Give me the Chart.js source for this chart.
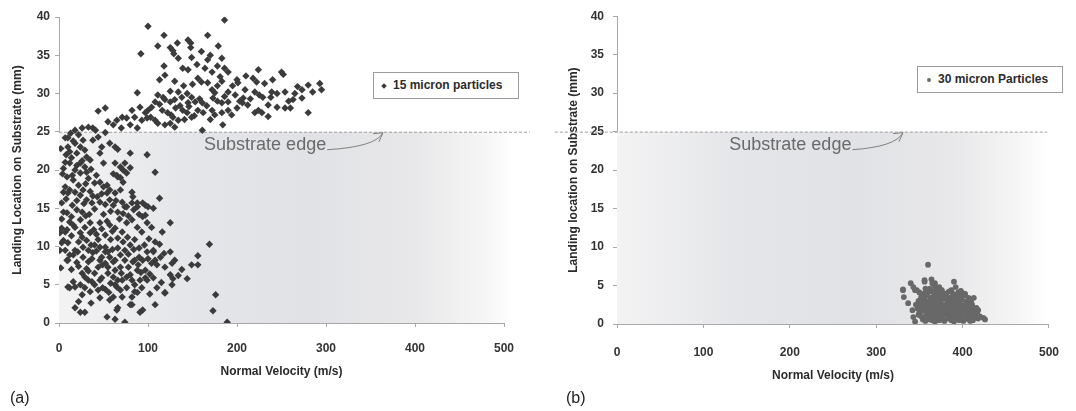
<!DOCTYPE html>
<html>
<head>
<meta charset="utf-8">
<script src="https://cdn.jsdelivr.net/npm/chart.js@4.4.1/dist/chart.umd.min.js"></script>
<style>
  body { margin: 0; background: #fff; font-family: 'Liberation Sans', Arial, sans-serif; }
  #wrap { position: relative; width: 1076px; height: 411px; overflow: hidden; }
  .panel { position: absolute; top: 0; width: 538px; height: 411px; }
  .legend { position: absolute; width: 146px; height: 27px; box-sizing: border-box;
            border: 1px solid #9c9c9c; background: #fff; }
  .legend span.txt { position: absolute; top: 5px; font-weight: bold; font-size: 12px; color: #2b2b2b; white-space: nowrap; }
  .legend span.dia { position: absolute; top: 11px; width: 4px; height: 4px; background: #3d3d3d; transform: rotate(45deg); }
  .legend span.dot { position: absolute; top: 11px; width: 4px; height: 4px; border-radius: 50%; background: #6e6e6e; }
  .tag { position: absolute; top: 389px; font-size: 16px; color: #222; }
</style>
</head>
<body>
<div id="wrap">
  <div class="panel" style="left:0"><canvas id="chartA" width="538" height="411"></canvas></div>
  <div class="panel" style="left:538px"><canvas id="chartB" width="538" height="411"></canvas></div>
  <div class="legend" style="left:373px; top:72px"><span class="dia" style="left:8px"></span><span class="txt" style="left:19px">15 micron particles</span></div>
  <div class="legend" style="left:917px; top:66px"><span class="dot" style="left:9px"></span><span class="txt" style="left:20px">30 micron Particles</span></div>
  <div class="tag" style="left:10px">(a)</div>
  <div class="tag" style="left:566px">(b)</div>
</div>
<script>
// tick labels
const velocityTicks = [0, 100, 200, 300, 400, 500];
const locationTicks = [0, 5, 10, 15, 20, 25, 30, 35, 40];
const substrateEdge = 25;

// (a) 15 micron particles: [normal velocity m/s, landing location mm]
const fineParticles = [
  [100,38.8],[186,39.6],[118,37.6],[145,37],[148,36.6],[167,37.6],[111,36.2],[125,36],[128,35.6],[148,36],
  [179,36.2],[92,35.2],[129,35.2],[134,34.6],[149,34.7],[170,35],[167,34.4],[183,34.6],[139,33.3],[145,33.1],
  [164,33.3],[172,32.8],[186,33.3],[190,32.8],[224,33.1],[250,32.8],[252,32.5],[119,32.4],[113,31.8],[130,31.6],
  [156,32],[160,31.5],[167,31.4],[181,32.2],[183,31.6],[200,31.8],[201,31.4],[218,32],[222,31.5],[231,31.3],
  [280,31.1],[293,31.3],[295,30.5],[268,30.9],[273,30.5],[88,30.1],[111,29.8],[117,29.5],[134,30.2],[138,29.5],
  [144,30],[149,29.5],[172,30.5],[175,30.1],[173,29.4],[190,30.2],[198,29.8],[209,30.5],[207,29.4],[220,30.2],
  [225,29.8],[229,29.5],[239,30.2],[245,30],[254,30.2],[265,30],[273,29.4],[263,29.2],[119,29.2],[125,28.9],
  [130,29.2],[108,28.9],[104,28.2],[145,28.8],[153,28.9],[161,28.8],[183,28.8],[190,28.9],[206,28.8],[212,28.5],
  [235,28.5],[245,28.2],[254,28.1],[260,28.1],[91,28.2],[82,27.8],[100,27.8],[97,27.5],[116,27.8],[122,27.5],
  [128,26.9],[134,26.5],[139,27.8],[144,27.5],[149,26.9],[156,27.8],[162,27.5],[172,27.8],[175,27.2],[183,27.5],
  [190,27.8],[200,28.1],[220,27.5],[224,27.8],[228,27.5],[280,27.5],[44,27.7],[52,28.1],[71,26.9],[76,26.8],
  [65,26.5],[85,26.9],[93,26.5],[99,26.8],[108,26.5],[111,26.1],[119,25.9],[125,26.1],[130,25.6],[184,25.9],
  [55,26.3],[61,25.9],[80,25.9],[88,25.5],[33,25.6],[38,25.5],[26,25.5],[18,25.2],[161,25.2],
  [126,27.2],[131,28.1],[136,28.4],[141,26.6],[146,28.3],[152,27.1],[158,29.3],[166,28.4],[170,26.6],[178,29],
  [186,29.6],[194,27.2],[203,29],[215,29.3],[235,27],[238,29.5],[103,26.9],[113,28.6],[125,30.3],[140,31],
  [150,31.2],[178,31],[195,31],[210,32.3],[240,31.8],[258,29],[285,30.2],[118,33.6],[155,33.8],[160,35.5],
  [178,33.6],[133,36.6],
  [7,24.2],[10,24.2],[22,24.6],[27,23.9],[18,23.5],[24,23],[10,23],[12,22.4],[20,22.2],[29,22.6],
  [31,21.7],[35,21.3],[38,23.9],[44,24.3],[48,23],[46,22.2],[57,23.5],[63,23],[66,22.7],[80,22.2],
  [99,22],[7,21],[12,20.9],[24,20.9],[29,20.4],[18,20],[24,19.6],[31,19.7],[50,20.9],[63,20.9],
  [69,20.4],[72,20],[76,19.6],[9,19.1],[15,19.3],[61,19.5],[66,19.1],[108,19.7],[7,17.8],[12,17.4],
  [18,17.1],[22,18],[27,17.4],[40,18.3],[46,18.4],[50,17.8],[54,18],[57,17.4],[63,17],[69,17.4],
  [82,17.1],[83,16.5],[113,16.3],[74,20.9],[80,20.3],[65,19.3],[69,19],[72,18.4],
  [5,17.1],[10,17],[24,16.7],[3,15.7],[5,14.5],[9,14.4],[15,15.4],[20,14.8],[26,14.5],[31,16.1],
  [37,15.7],[43,16.5],[46,15.8],[54,17],[57,16.1],[61,15.4],[66,14.5],[74,15.2],[82,15.7],[88,15.2],
  [97,15.4],[106,15],[94,13.9],[99,13.1],[88,15.7],[94,15.7],[100,15.2],[71,15.8],[76,15.2],[97,14.1],
  [12,13.2],[16,12.8],[24,13.5],[29,12.5],[35,13.1],[3,12.4],[7,11.9],[46,13.1],[57,12.8],[63,12.4],
  [71,11.9],[76,13.1],[82,13.5],[88,12.5],[93,11.9],[104,12.5],[116,11.9],[125,13.1],
  [5,10.8],[10,10.5],[1,9.5],[22,10.6],[27,9.9],[33,9.5],[38,9.2],[18,9.5],[12,8.9],[9,8.2],
  [46,9.9],[52,9.3],[57,8.6],[63,8.2],[69,8.9],[74,9.5],[80,10.2],[46,8.2],[49,7.6],[55,7.3],
  [83,8],[89,7.6],[94,8.2],[99,9.3],[106,9.5],[108,8.2],[110,7.6],[125,9.3],[130,8.2],[127,7.8],
  [149,7.6],[156,7.6],[156,8.8],[169,10.3],[144,5.8],[128,5.8],[127,5],[119,3.9],[106,5.9],[110,4.6],
  [99,5.6],[91,5.6],[85,5],[85,4.1],[76,6],[82,5.6],[76,4.6],[61,6],[66,5.6],[69,4.3],
  [61,3.4],[57,3],[46,5.6],[40,5],[49,4.6],[46,3.3],[33,5.6],[29,4.6],[26,3.7],[35,4.1],
  [16,5.4],[10,4.7],[24,5],[66,2],[65,1.7],[18,2],[24,1.4],[29,1.4],[80,2.4],[91,1.4],
  [94,1.7],[108,2.4],[54,0.8],[63,0.5],[74,0.1],[173,1.6],[176,3.7],[189,0.1],
  [108,10.6],[106,9.3],[104,7.8],[119,7.3],[125,6.3],[119,4],[97,5.9],[88,4],[97,6.9],[85,8.2],
  [88,6.9],[80,6.3],[74,8.2],[69,7.3],[63,6.9],[71,5.6],[65,4.7],[82,3.4],[82,2.4],
  [52,9.9],[55,9.3],[48,8.6],[61,8],[52,7.8],[44,7.3],[40,6.5],[48,5.9],[55,6.5],[37,5.4],
  [29,6],[18,4.7],[12,4.6],[33,8],[27,8.6],[21,9.3],[16,8.9],[10,8.2],[7,9.5],[3,10.5],
  [1,11.8],[9,12.2],[18,12.5],[26,11.2],[31,10.8],[40,10.2],[35,11.8],
  [2,22.8],[14,21.6],[5,20.2],[16,18.7],[33,18.9],[36,20.1],[28,15.6],[34,14.2],[40,14.9],[50,14.2],
  [14,13.9],[39,12.2],[52,11.5],[58,10.9],[66,11.1],[44,10.9],[60,12],[77,11.2],[85,10.9],[90,9.8],
  [113,10.3],[118,9.1],[101,11],[2,7.2],[14,7],[22,7.4],[31,7.1],[37,8.4],[42,9.4],[58,5.2],
  [52,4.4],[71,3.4],[93,4.6],[102,3.8],[115,5.3],[134,6.2],[138,7],[22,2.8],[36,2.6],[13,24.8],
  [52,24.9],[41,25.2],[70,25.5],
  [4,19.5],[8,22],[16,23.8],[20,20.6],[26,21.2],[30,18.2],[35,17.2],[38,16.6],[42,19.3],[48,16.9],
  [52,15.5],[58,14.6],[64,16],[68,13.6],[72,14.3],[78,14],[84,14.8],[90,14.2],[3,13.6],[8,16.2],
  [20,16],[24,11.8],[30,14],[36,10.2],[42,11.6],[48,12.3],[54,13.3],[60,9.6],[66,9.8],[72,10.6],
  [78,9],[84,9.6],[90,8.6],[96,10.2],[14,11.4],[20,7.9],[26,6.5],[33,6.8],[44,4.3],[56,4],
  [63,5],[70,6.5],[78,7.3],[92,6.6],[102,6.4],[114,8.6],[100,8.4]
];

// (b) 30 micron particles
const coarseParticles = [
  [360,7.7],[331,4.5],[332,3.5],[340,5.3],[343,4.8],[345,4.4],[356,5.7],[364,5.8],[365,5.3],[373,4.8],
  [375,4.4],[390,5.5],[392,4.8],[337,2.7],[342,1.8],[343,0.9],[345,0.3],[424,0.8],[413,3.4],[416,2.1],
  [331,4.4],[368,5.3],[347,4.4],[426,0.6],[418,1.8],[356,5.5],
  [357,0.4],[362,0.6],[368,0.3],[373,0.5],[379,0.4],[384,0.7],[390,0.3],[396,0.5],[401,0.4],[407,0.6],
  [412,0.5],[418,0.7],[352,1.0],[358,1.2],[364,0.9],[369,1.1],[375,1.0],[380,1.3],[386,0.9],[391,1.1],
  [397,1.0],[403,1.2],[408,0.9],[414,1.1],[420,1.0],[350,1.5],[355,1.7],[361,1.4],[366,1.6],[372,1.5],
  [377,1.8],[383,1.4],[388,1.6],[394,1.5],[399,1.7],[405,1.4],[410,1.6],[416,1.5],[348,2.0],[353,2.2],
  [359,1.9],[364,2.1],[370,2.0],[375,2.3],[381,1.9],[386,2.1],[392,2.0],[397,2.2],[403,1.9],[408,2.1],
  [413,2.0],[346,2.5],[351,2.7],[357,2.4],[362,2.6],[368,2.5],[373,2.8],[379,2.4],[384,2.6],[390,2.5],
  [395,2.7],[401,2.4],[406,2.6],[411,2.5],[349,3.0],[355,3.2],[360,2.9],[366,3.1],[371,3.0],[377,3.3],
  [382,2.9],[388,3.1],[393,3.0],[399,3.2],[404,2.9],[409,3.1],[352,3.5],[358,3.7],[363,3.4],[369,3.6],
  [374,3.5],[380,3.8],[385,3.4],[391,3.6],[396,3.5],[402,3.7],[407,3.4],[356,4.0],[361,4.2],[367,3.9],
  [372,4.1],[378,4.0],[384,4.2],[389,3.9],[395,4.1],[400,4.0],[350,4.1],[362,4.6],[368,4.9],[376,4.4],
  [360,0.8],[371,0.7],[382,0.8],[393,0.7],[404,0.8],[366,2.3],[378,2.2],[389,2.3],[400,2.2],[372,3.3],
  [383,3.2],[394,3.3],[355,2.6],[410,1.3],[365,1.3],[376,1.2],[387,1.3],[398,1.4],
  [354,0.6],[365,0.5],[376,0.6],[387,0.5],[398,0.6],[409,0.4],[415,0.9],[349,1.2],[361,1.0],[372,1.2],
  [383,1.1],[394,1.2],[405,1.0],[417,1.3],[353,1.8],[364,1.8],[374,1.6],[385,1.8],[396,1.9],[407,1.8],
  [351,2.4],[361,2.3],[372,2.5],[383,2.3],[393,2.4],[404,2.3],[410,2.8],[353,3.0],[364,2.8],[375,2.9],
  [386,2.8],[397,2.9],[407,3.2],[356,3.4],[366,3.5],[377,3.6],[388,3.5],[399,3.6],[359,3.9],[370,3.8],
  [381,3.9],[392,3.8],[403,3.9],[364,4.3],[375,4.2],[387,4.4],[398,4.3],[357,4.6],[370,4.5]
];

const substratePlugin = {
  id: 'substrate',
  beforeDatasetsDraw(chart, args, o) {
    const { ctx, scales: { x, y } } = chart;
    const x0 = x.getPixelForValue(0), x1 = x.getPixelForValue(o.shadeEnd);
    const yTop = y.getPixelForValue(substrateEdge), yBot = y.getPixelForValue(0);
    ctx.save();
    const g = ctx.createLinearGradient(x0, 0, x1, 0);
    g.addColorStop(0, '#f3f3f4');
    g.addColorStop(0.3, '#e4e5e8');
    g.addColorStop(0.55, '#e1e2e5');
    g.addColorStop(0.78, '#e8e8ea');
    g.addColorStop(0.93, '#f5f5f5');
    g.addColorStop(1, '#ffffff');
    ctx.fillStyle = g;
    ctx.fillRect(x0, yTop, x1 - x0, yBot - yTop);

    // dashed edge line
    ctx.strokeStyle = '#a0a0a0';
    ctx.lineWidth = 1;
    ctx.setLineDash([3, 2]);
    ctx.beginPath();
    ctx.moveTo(x.getPixelForValue(o.lineStart), yTop + 0.5);
    ctx.lineTo(x.getPixelForValue(o.lineEnd), yTop + 0.5);
    ctx.stroke();
    ctx.setLineDash([]);

    // label + arrow
    const tx = x.getPixelForValue(o.textX), ty = y.getPixelForValue(o.textY);
    ctx.font = '18px "Liberation Sans", Arial, sans-serif';
    ctx.fillStyle = '#6a6a6a';
    ctx.textBaseline = 'middle';
    ctx.fillText('Substrate edge', tx, ty);
    const w = ctx.measureText('Substrate edge').width;
    const sx = tx + w + 1, sy = ty + 5;
    const px = x.getPixelForValue(o.tipX), py = yTop + 1;
    ctx.strokeStyle = '#808080';
    ctx.beginPath();
    ctx.moveTo(sx, sy);
    ctx.quadraticCurveTo(px - 7, sy - 3, px, py);
    ctx.stroke();
    ctx.beginPath();
    ctx.moveTo(px - 10, py + 1);
    ctx.lineTo(px, py);
    ctx.lineTo(px - 4, py + 9);
    ctx.stroke();
    ctx.restore();
  }
};

function makeChart(id, points, p) {
  const font = { family: "'Liberation Sans', Arial, sans-serif", size: 12, weight: 'bold' };
  return new Chart(document.getElementById(id), {
    type: 'scatter',
    data: {
      datasets: [{
        data: points.map(([v, l]) => ({ x: v, y: l })),
        pointStyle: p.style,
        pointRadius: p.radius,
        backgroundColor: p.color,
        borderWidth: 0
      }]
    },
    options: {
      responsive: false,
      animation: false,
      devicePixelRatio: 1,
      layout: { padding: { left: p.padLeft, right: p.padRight, top: p.padTop, bottom: p.padBottom } },
      plugins: {
        legend: { display: false },
        tooltip: { enabled: false },
        substrate: p.edge
      },
      scales: {
        x: {
          type: 'linear', min: 0, max: 500,
          afterBuildTicks: s => { s.ticks = velocityTicks.map(v => ({ value: v })); },
          afterFit: s => { s.height = p.xHeight; },
          ticks: { font, color: '#333', padding: p.xTickPad, maxRotation: 0 },
          grid: { drawOnChartArea: false, tickLength: 4, color: '#a8a8a8' },
          border: { color: '#a8a8a8' },
          title: { display: true, text: 'Normal Velocity (m/s)', font, color: '#2b2b2b', padding: 0 }
        },
        y: {
          type: 'linear', min: 0, max: 40,
          afterBuildTicks: s => { s.ticks = locationTicks.map(v => ({ value: v })); },
          afterFit: s => { s.width = p.yWidth; },
          ticks: { font, color: '#333', padding: p.yTickPad },
          grid: { drawOnChartArea: false, tickLength: 4, color: '#a8a8a8' },
          border: { color: '#a8a8a8' },
          title: { display: true, text: p.yTitle, font, color: '#2b2b2b', padding: 0 }
        }
      }
    },
    plugins: [substratePlugin]
  });
}

makeChart('chartA', fineParticles, {
  style: 'rectRot', radius: 3.7, color: '#3b3b3b',
  padLeft: 10, padRight: 34, padTop: 17, padBottom: 32,
  xHeight: 56, yWidth: 49, xTickPad: 14, yTickPad: 5,
  yTitle: 'Landing Location on Substrate (mm)',
  edge: { shadeEnd: 512, lineStart: 0, lineEnd: 529, textX: 163, textY: 23.3, tipX: 364 }
});

makeChart('chartB', coarseParticles, {
  style: 'circle', radius: 2.9, color: '#686868',
  padLeft: 28, padRight: 13, padTop: 16, padBottom: 28,
  xHeight: 59, yWidth: 51, xTickPad: 17, yTickPad: 9,
  yTitle: 'Landing location on Substrate (mm)',
  edge: { shadeEnd: 498, lineStart: -72, lineEnd: 498, textX: 130, textY: 23.3, tipX: 331 }
});
</script>
</body>
</html>
